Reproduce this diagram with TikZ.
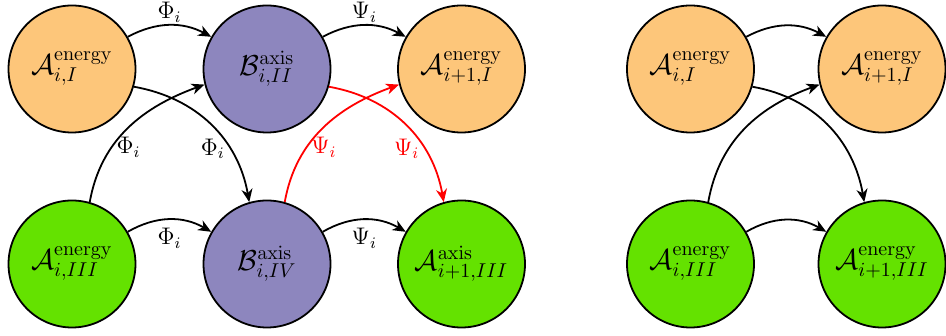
\documentclass[tikz,border=0pt]{standalone}
\usetikzlibrary{arrows.meta}
\definecolor{enorange}{RGB}{253,198,122}
\definecolor{axpurple}{RGB}{141,134,190}
\definecolor{engreen}{RGB}{100,226,0}
\begin{document}
\begin{tikzpicture}[x=0.5pt,y=0.5pt,
  state/.style={circle, draw=black, line width=0.9pt, minimum size=63.5pt, inner sep=0pt, font=\Large},
  conn/.style={-{Stealth[length=6.5pt,width=5.5pt,inset=2pt]}, line width=0.9pt},
  lab/.style={font=\large, inner sep=2pt}]
\useasboundingbox (0,0) rectangle (946,336);
% left group
\node[state, fill=enorange] (a1) at (72,267) {$\mathcal{A}^{\mathrm{energy}}_{i,I}$};
\node[state, fill=axpurple] (b2) at (267,267) {$\mathcal{B}^{\mathrm{axis}}_{i,II}$};
\node[state, fill=enorange] (a3) at (461.5,267) {$\mathcal{A}^{\mathrm{energy}}_{i+1,I}$};
\node[state, fill=engreen] (a4) at (72,72) {$\mathcal{A}^{\mathrm{energy}}_{i,III}$};
\node[state, fill=axpurple] (b4) at (267,72) {$\mathcal{B}^{\mathrm{axis}}_{i,IV}$};
\node[state, fill=engreen] (a5) at (461.5,72) {$\mathcal{A}^{\mathrm{axis}}_{i+1,III}$};
% right group
\node[state, fill=enorange] (r1) at (690.5,267) {$\mathcal{A}^{\mathrm{energy}}_{i,I}$};
\node[state, fill=enorange] (r2) at (882,267) {$\mathcal{A}^{\mathrm{energy}}_{i+1,I}$};
\node[state, fill=engreen] (r3) at (690.5,72) {$\mathcal{A}^{\mathrm{energy}}_{i,III}$};
\node[state, fill=engreen] (r4) at (882,72) {$\mathcal{A}^{\mathrm{energy}}_{i+1,III}$};
% left connectors
\draw[conn] (a1.30) to[bend left=28] node[lab, above, inner sep=1pt] {$\Phi_i$} (b2.150);
\draw[conn] (b2.30) to[bend left=28] node[lab, above, inner sep=1pt] {$\Psi_i$} (a3.150);
\draw[conn] (a4.30) to[bend left=30] node[lab, below, yshift=-2pt] {$\Phi_i$} (b4.150);
\draw[conn] (b4.30) to[bend left=30] node[lab, below, yshift=-2pt] {$\Psi_i$} (a5.150);
\draw[conn] (a1.-16) to[out=-10, in=100] node[lab, pos=0.68, left] {$\Phi_i$} (b4.106);
\draw[conn] (a4.74) to[out=80, in=200] node[lab, pos=0.34, right] {$\Phi_i$} (b2.194);
\draw[conn, red] (b4.74) to[out=80, in=200] node[lab, pos=0.34, right] {$\Psi_i$} (a3.194);
\draw[conn, red] (b2.-16) to[out=-10, in=100] node[lab, pos=0.68, left] {$\Psi_i$} (a5.106);
% right connectors
\draw[conn] (r1.30) to[bend left=28] (r2.150);
\draw[conn] (r3.30) to[bend left=30] (r4.150);
\draw[conn] (r1.-16) to[out=-10, in=100] (r4.106);
\draw[conn] (r3.74) to[out=80, in=200] (r2.194);
\end{tikzpicture}
\end{document}
